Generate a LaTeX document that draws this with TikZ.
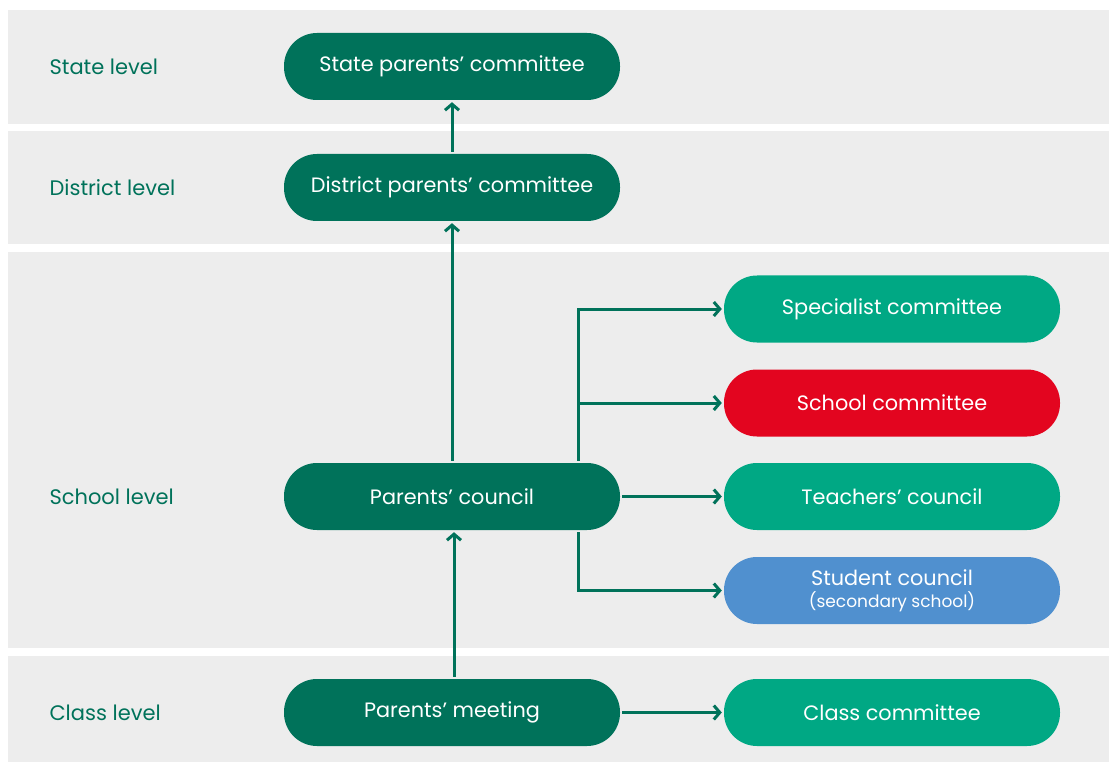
\documentclass[tikz,border=0pt]{standalone}
\usepackage{fontspec}
\setmainfont{Poppins}
\usetikzlibrary{arrows.meta}
\definecolor{darkgreen}{HTML}{00725A}
\definecolor{midgreen}{HTML}{00A884}
\definecolor{schoolred}{HTML}{E3051F}
\definecolor{studentblue}{HTML}{5090CF}
\definecolor{bandgrey}{HTML}{EDEDED}

\begin{document}
\begin{tikzpicture}[x=1pt,y=-1pt,
  box/.style={rounded corners=33pt,minimum width=336pt,minimum height=67pt,inner sep=0pt,
    text=white,font=\fontsize{20.8}{23}\selectfont},
  level/.style={anchor=west,text=darkgreen,font=\fontsize{21}{23}\selectfont},
  arr/.style={draw=darkgreen,line width=3pt,shorten <=2pt,shorten >=2pt,
    -{Straight Barb[length=6pt,width=14pt]}}]

\fill[white] (0,0) rectangle (1109,762);
\useasboundingbox (0,0) rectangle (1109,762);

% level bands
\fill[bandgrey] (8,10) rectangle (1109,124);
\fill[bandgrey] (8,131) rectangle (1109,244);
\fill[bandgrey] (8,252) rectangle (1109,648);
\fill[bandgrey] (8,656) rectangle (1109,762);

\node[level] (lstate) at (46,67) {State level};
\node[level] (ldistrict) at (46,188) {District level};
\node[level] (lschool) at (46,497) {School level};
\node[level] (lclass) at (46,713) {Class level};

% left column
\node[box,fill=darkgreen] (state) at (452,66.5) {State parents’ committee};
\node[box,fill=darkgreen] (district) at (452,187.5) {District parents’ committee};
\node[box,fill=darkgreen] (council) at (452,496.5) {Parents’ council};
\node[box,fill=darkgreen] (meeting) at (452,712.5) {Parents’ meeting};

% right column
\node[box,fill=midgreen] (specialist) at (892,309) {Specialist committee};
\node[box,fill=schoolred] (schoolcom) at (892,403) {School committee};
\node[box,fill=midgreen] (teachers) at (892,496.5) {Teachers’ council};
\node[box,fill=studentblue,align=center] (student) at (892,590.5)
  {Student council\\[-1pt]{\fontsize{17}{19}\selectfont(secondary school)}};
\node[box,fill=midgreen] (classcom) at (892,712.5) {Class committee};

\draw[arr] (district) -- (state);
\draw[arr] (council) -- (district);
\draw[arr] ([xshift=2pt]meeting.north) -- ([xshift=2pt]council.south);
\draw[arr] (meeting) -- (classcom);
\draw[arr] (council) -- (teachers);
\draw[arr] ([xshift=126pt]council.north) |- (specialist.west);
\draw[arr] ([xshift=126pt]council.north) |- (schoolcom.west);
\draw[arr] ([xshift=126pt]council.south) |- (student.west);

\end{tikzpicture}
\end{document}
